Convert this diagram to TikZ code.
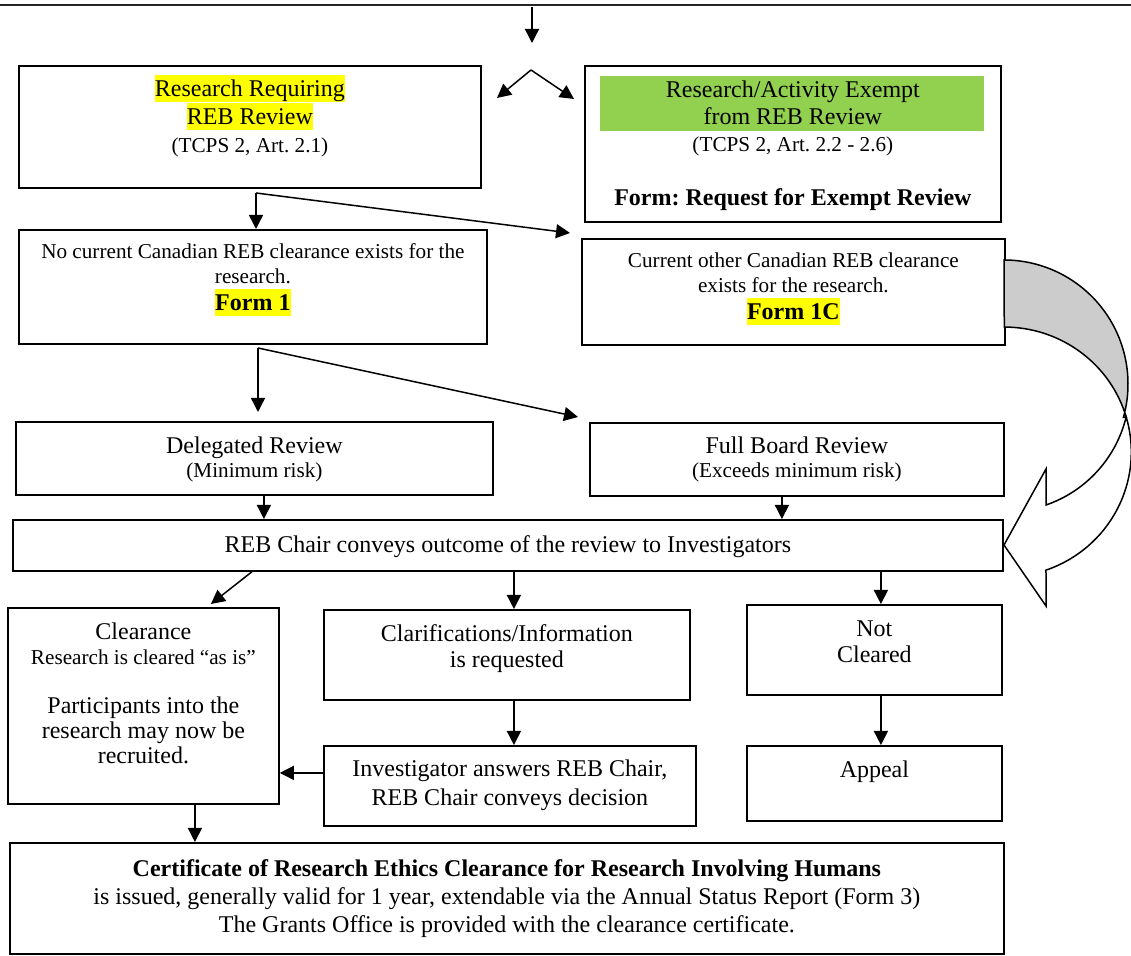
\documentclass[tikz,border=0pt]{standalone}
\usepackage{fontspec}
\setmainfont{Liberation Serif}
\frenchspacing
\usetikzlibrary{arrows.meta}
\definecolor{hlyellow}{HTML}{FFFF00}
\definecolor{exgreen}{HTML}{92D050}
\newcommand{\hiyel}[1]{{\fboxsep=0pt\colorbox{hlyellow}{\rule[-2.6pt]{0pt}{13.3pt}#1}}}
\newcommand{\smalltxt}{\fontsize{10.6}{12.5}\selectfont}
\tikzset{box/.style = {draw, line width = 0.9pt, inner sep = 0, align = flush center, anchor = north west},
         arr/.style = {-{Triangle[length = 7pt, width = 7pt]}, line width = 0.75pt}}

\begin{document}
\begin{tikzpicture}[x = 0.5pt, y = -0.5pt]
    \useasboundingbox (0, 0) rectangle (1131, 956);
    \draw [line width = 1.3pt, black!85] (0, 5) -- (1131, 5);

    % shading behind the exempt title
    \fill [exgreen] (600, 76) rectangle (984, 131);

    \node [box, text width = 231pt, text height = 15.5pt, text depth = 45.5pt, font = \fontsize{12}{14}\selectfont] (resb) at (18, 65)
        {\hiyel{Research Requiring}\\\hiyel{REB Review}\\{\smalltxt (TCPS 2, Art. 2.1)}};
    \node [box, text width = 208pt, text height = 16pt, text depth = 62pt, font = \fontsize{12}{13.5}\selectfont] (exempt) at (584, 65)
        {Research/Activity Exempt\\from REB Review\\{\smalltxt (TCPS 2, Art. 2.2 - 2.6)}\\[13.5pt]\textbf{Form: Request for Exempt Review}};
    \node [box, text width = 234pt, text height = 14.5pt, text depth = 42.5pt, font = \fontsize{12}{12.5}\selectfont] (nocur) at (18, 229)
        {{\smalltxt No current Canadian REB clearance exists for the}\\{\smalltxt research.}\\[1pt]\hiyel{\textbf{Form 1}}};
    \node [box, text width = 211.5pt, text height = 14.5pt, text depth = 38.5pt, font = \fontsize{12}{12.5}\selectfont] (other) at (581, 238)
        {{\smalltxt Current other Canadian REB clearance}\\{\smalltxt exists for the research.}\\[1pt]\hiyel{\textbf{Form 1C}}};
    \node [box, text width = 238.5pt, text height = 16pt, text depth = 20.5pt, font = \fontsize{12}{12}\selectfont] (delegated) at (15, 421)
        {Delegated Review\\{\smalltxt (Minimum risk)}};
    \node [box, text width = 207pt, text height = 15.5pt, text depth = 21pt, font = \fontsize{12}{12}\selectfont] (fullboard) at (589, 422)
        {Full Board Review\\{\smalltxt (Exceeds minimum risk)}};
    \node [box, text width = 495pt, text height = 16.5pt, text depth = 9pt, font = \fontsize{12}{14}\selectfont] (reb) at (12, 519)
        {REB Chair conveys outcome of the review to Investigators};
    \node [box, text width = 135.5pt, text height = 16pt, text depth = 82pt, font = \fontsize{12}{12.5}\selectfont] (clear) at (7, 607)
        {Clearance\\{\smalltxt Research is cleared “as is”}\\[12pt]Participants into the\\research may now be\\recruited.};
    \node [box, text width = 183pt, text height = 16pt, text depth = 29pt, font = \fontsize{12}{13}\selectfont] (clar) at (323, 609)
        {Clarifications/Information\\is requested};
    \node [box, text width = 186pt, text height = 15.5pt, text depth = 24.5pt, font = \fontsize{12}{14.5}\selectfont] (inv) at (323, 745)
        {Investigator answers REB Chair,\\REB Chair conveys decision};
    \node [box, text width = 127.5pt, text height = 16pt, text depth = 29pt, font = \fontsize{12}{13}\selectfont] (notc) at (746, 604)
        {Not\\Cleared};
    \node [box, text width = 127.5pt, text height = 16pt, text depth = 21.5pt, font = \fontsize{12}{13}\selectfont] (appeal) at (746, 745)
        {Appeal};
    \node [box, text width = 497pt, text height = 17pt, text depth = 38.5pt, font = \fontsize{12}{14}\selectfont] (cert) at (9, 842)
        {\textbf{Certificate of Research Ethics Clearance for Research Involving Humans}\\is issued, generally valid for 1 year, extendable via the Annual Status Report (Form 3)\\The Grants Office is provided with the clearance certificate.};

    \coordinate (topin) at (532, 7);
    \coordinate (topout) at (532, 43);
    \draw [arr] (topin) -- (topout);
    \coordinate (fork) at (531, 70);
    \coordinate (forkl) at (497, 98);
    \coordinate (forkr) at (574, 99);
    \draw [arr] (fork) -- (forkl);
    \draw [arr] (fork) -- (forkr);

    \coordinate (splitA) at (256, 193);
    \draw [arr] (splitA) -- (splitA |- nocur.north);
    \draw [arr] (splitA) -- ([xshift = -5.5pt, yshift = 2.5pt] other.north west);
    \coordinate (splitB) at (258, 348);
    \draw [arr] (splitB) -- ([yshift = 4.5pt] splitB |- delegated.north);
    \draw [arr] (splitB) -- ([xshift = -5.5pt, yshift = 2.5pt] fullboard.north west);

    \draw [arr] ([xshift = 4.75pt] delegated.south) -- ([xshift = 4.75pt] delegated.south |- reb.north);
    \draw [arr] ([xshift = -7.5pt] fullboard.south) -- ([xshift = -7.5pt] fullboard.south |- reb.north);
    \draw [arr] ([xshift = -128pt] reb.south) -- ([xshift = 33.75pt, yshift = 1.5pt] clear.north);
    \draw [arr] ([xshift = 3.5pt] clar.north |- reb.south) -- ([xshift = 3.5pt] clar.north);
    \draw [arr] ([xshift = 3.25pt] notc.north |- reb.south) -- ([xshift = 3.25pt] notc.north);
    \draw [arr] ([xshift = 3.5pt] clar.south) -- ([xshift = 3.5pt] clar.south |- inv.north);
    \draw [arr] ([xshift = 3.25pt] notc.south) -- ([xshift = 3.25pt] notc.south |- appeal.north);
    \draw [arr] ([yshift = 6.5pt] inv.west) -- ([yshift = 6.5pt] inv.west -| clear.east);
    \draw [arr] ([xshift = 25.75pt] clear.south) -- ([xshift = 25.75pt] clear.south |- cert.north);

    % curved block arrow from Form 1C back to the REB Chair
    \draw [line width = 0.75pt, fill = gray!40] (1004, 260) arc [start angle = -90, end angle = 15.6, radius = 124]
        -- (1126.3, 417.4) arc [start angle = -16.1, end angle = -90, x radius = 127, y radius = 125] -- cycle;
    \draw [line width = 0.75pt, fill = white] (1126.3, 417.4) arc [start angle = -16.1, end angle = 71, x radius = 127, y radius = 125]
        -- (1046, 573) -- (1046, 606) -- (1004, 545) -- (1046, 469) -- (1046, 505)
        arc [start angle = 71, end angle = 15.6, radius = 124] -- cycle;
\end{tikzpicture}
\end{document}
